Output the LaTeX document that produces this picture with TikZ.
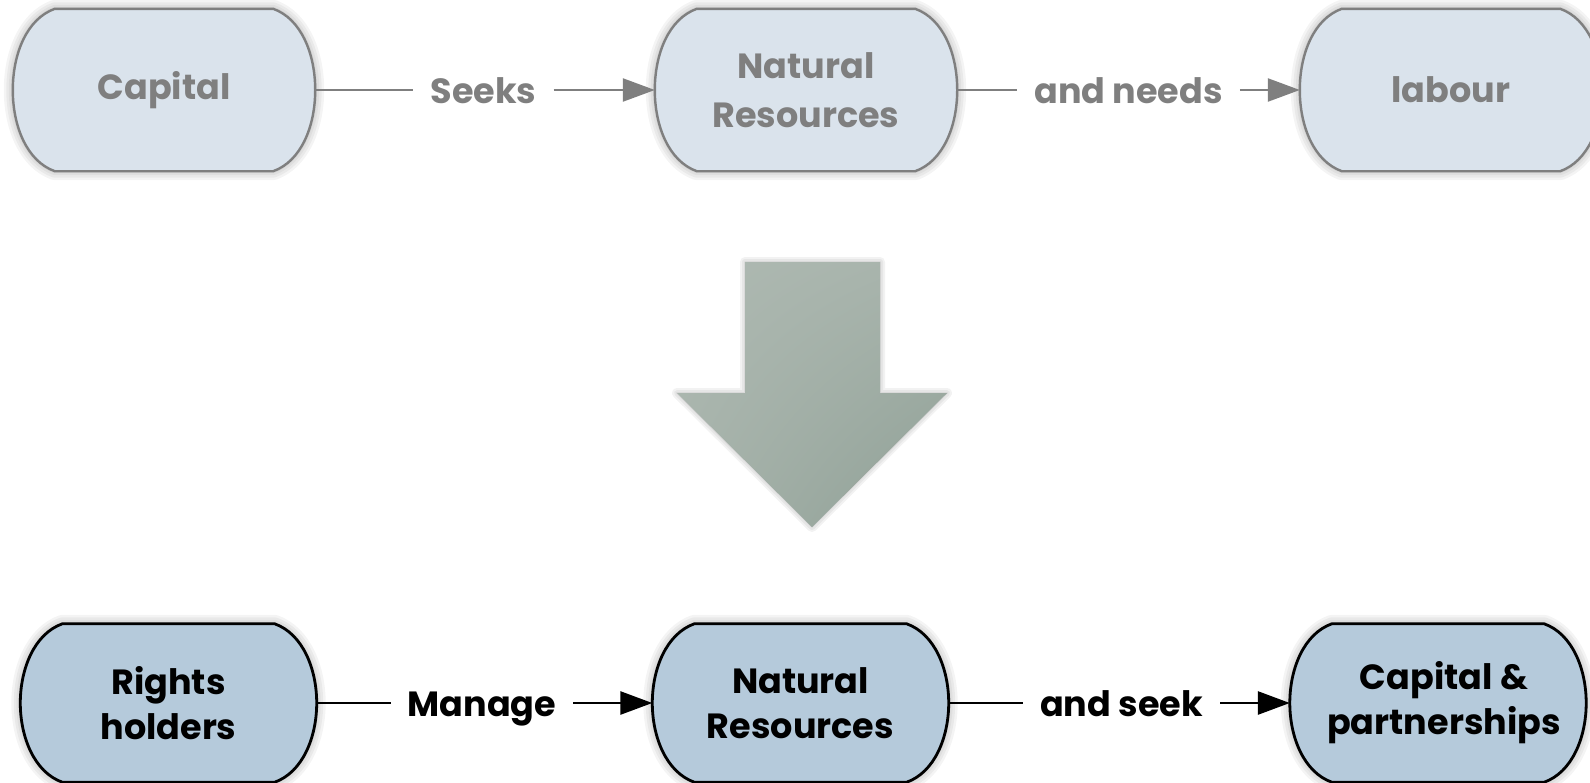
\documentclass[tikz,border=0pt]{standalone}
\usepackage{fontspec}
\setmainfont{Poppins}
\usetikzlibrary{arrows.meta,calc,shadings}
\definecolor{topfill}{HTML}{DAE3EC}
\definecolor{topline}{HTML}{7F7F7F}
\definecolor{botfill}{HTML}{B5CADB}
\definecolor{arrA}{HTML}{A7B3AB}
\definecolor{arrB}{HTML}{8E9F95}
\tikzset{
  box/.style={minimum width=#1, minimum height=162pt, inner sep=0pt, align=center},
  topbox/.style={box=302pt, text=topline, font=\fontsize{35}{49}\selectfont\bfseries},
  botbox/.style={box=296pt, minimum height=158pt, text=black, font=\fontsize{35}{45}\selectfont\bfseries},
  lbl/.style={inner xsep=17pt, inner ysep=0pt, text height=26pt, text depth=0pt,
    font=\fontsize{35}{45}\selectfont\bfseries},
  toplbl/.style={lbl, text=topline},
  botlbl/.style={lbl, text=black},
  topcon/.style={draw=topline, line width=2.4pt},
  botcon/.style={draw=black, line width=2.8pt},
  toptip/.style={-{Triangle[length=32pt,width=23pt,fill=topline]}},
  bottip/.style={-{Triangle[length=32pt,width=23pt]}},
}
% pill outline through the anchors of a named node (bulging ends)
\newcommand\pillpath[1]{%
  let \p1=(#1.south west), \p2=(#1.north east), \p3=(#1.center) in
  (\x1+42pt,\y2) -- (\x2-42pt,\y2)
  .. controls (\x2-14pt,\y2-10pt) and (\x2,\y2-45pt) .. (\x2,\y3)
  .. controls (\x2,\y1+45pt) and (\x2-14pt,\y1+10pt) .. (\x2-42pt,\y1)
  -- (\x1+42pt,\y1)
  .. controls (\x1+14pt,\y1+10pt) and (\x1,\y1+45pt) .. (\x1,\y3)
  .. controls (\x1,\y2-45pt) and (\x1+14pt,\y2-10pt) .. (\x1+42pt,\y2)
  -- cycle}
\newcommand\pillshadow[1]{%
  \foreach \ww in {18,13,8,4}{
    \draw[black, opacity=0.045, line width=\ww pt, line join=round]
      [shift={(2pt,-7pt)}] \pillpath{#1};}
  \fill[black, opacity=0.16][shift={(2pt,-7pt)}] \pillpath{#1};}
\begin{document}
\begin{tikzpicture}[x=1pt,y=-1pt]
\useasboundingbox (0,0) rectangle (1590,782);
\clip (0,0) rectangle (1590,782);
% ---- nodes
\node[topbox] (cap)  at (164,90)  {};
\node[topbox] (nr1)  at (806,90)  {};
\node[topbox] (lab)  at (1451,90) {};
\node[botbox] (rh)   at (168.5,703) {};
\node[botbox] (nr2)  at (800.5,703) {};
\node[botbox] (cp)   at (1438,703) {};
% ---- shadows and shapes
\pillshadow{cap}\pillshadow{nr1}\pillshadow{lab}
\pillshadow{rh}\pillshadow{nr2}\pillshadow{cp}
\filldraw[fill=topfill, draw=topline, line width=2.4pt] \pillpath{cap};
\filldraw[fill=topfill, draw=topline, line width=2.4pt] \pillpath{nr1};
\filldraw[fill=topfill, draw=topline, line width=2.4pt] \pillpath{lab};
\filldraw[fill=botfill, draw=black, line width=2.8pt] \pillpath{rh};
\filldraw[fill=botfill, draw=black, line width=2.8pt] \pillpath{nr2};
\filldraw[fill=botfill, draw=black, line width=2.8pt] \pillpath{cp};
% texts
\node[topbox] (capt) at (cap) {Capital};
\node[topbox] (nr1t) at (nr1) {Natural\\Resources};
\node[topbox] (labt) at (lab) {labour};
\node[botbox] (rht)  at (rh)  {Rights\\holders};
\node[botbox] (nr2t) at (nr2) {Natural\\Resources};
\node[botbox] (cpt)  at ([xshift=6pt]cp.center)  {Capital \&\\partnerships};
% ---- connector labels
\node[toplbl] (l1) at (483.5,90) {Seeks};
\node[toplbl] (l2) at (1128.5,90) {and needs};
\node[botlbl] (l3) at (482,703) {Manage};
\node[botlbl] (l4) at (1121.5,703) {and seek};
% ---- connectors
\draw[topcon] (cap.east) -- (l1.west);
\draw[topcon, toptip] (l1.east) -- (nr1.west);
\draw[topcon] (nr1.east) -- (l2.west);
\draw[topcon, toptip] (l2.east) -- (lab.west);
\draw[botcon] (rh.east) -- (l3.west);
\draw[botcon, bottip] (l3.east) -- (nr2.west);
\draw[botcon] (nr2.east) -- (l4.west);
\draw[botcon, bottip] (l4.east) -- (cp.west);
% ---- big arrow
\coordinate (a1) at (745,262);
\coordinate (a2) at (880,262);
\coordinate (a3) at (880,393);
\coordinate (a4) at (947,393);
\coordinate (a5) at (812,527);
\coordinate (a6) at (677,393);
\coordinate (a7) at (745,393);
\foreach \ww in {10,6,2}{
  \draw[black, opacity=0.05, line width=\ww pt, line join=round, shift={(3pt,-4pt)}]
    (a1)--(a2)--(a3)--(a4)--(a5)--(a6)--(a7)--cycle;}
\fill[black, opacity=0.15, shift={(3pt,-4pt)}] (a1)--(a2)--(a3)--(a4)--(a5)--(a6)--(a7)--cycle;
\shade[upper left=arrA!92!white, upper right=arrA, lower left=arrA, lower right=arrB]
  (a1)--(a2)--(a3)--(a4)--(a5)--(a6)--(a7)--cycle;
\end{tikzpicture}
\end{document}
